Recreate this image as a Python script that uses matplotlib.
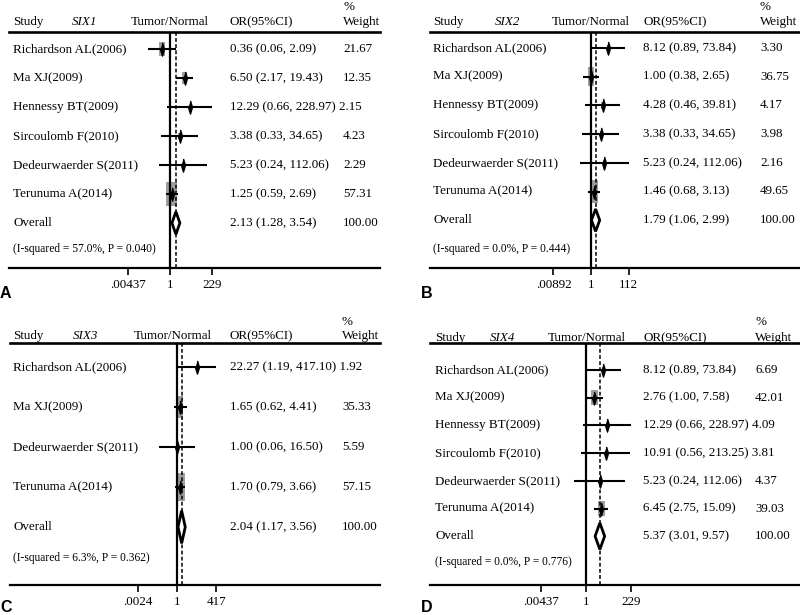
import matplotlib
matplotlib.use("Agg")
import numpy as np
import matplotlib.pyplot as plt
from matplotlib.patches import Polygon, Rectangle
from matplotlib.ticker import NullLocator
from matplotlib.transforms import blended_transform_factory

plt.rcParams['font.family'] = ['Liberation Serif', 'DejaVu Serif']

# ---------------- data ----------------
a_gene = 'SIX1'
a_studies = ['Richardson AL(2006)', 'Ma XJ(2009)', 'Hennessy BT(2009)',
             'Sircoulomb F(2010)', 'Dedeurwaerder S(2011)', 'Terunuma A(2014)']
a_or = [0.36, 6.50, 12.29, 3.38, 5.23, 1.25]
a_lo = [0.06, 2.17, 0.66, 0.33, 0.24, 0.59]
a_hi = [2.09, 19.43, 228.97, 34.65, 112.06, 2.69]
a_wt = [21.67, 12.35, 2.15, 4.23, 2.29, 57.31]
a_overall = [2.13, 1.28, 3.54]
a_het = '(I-squared = 57.0%, P = 0.040)'
a_ticks = [0.00437, 1, 229]
a_ticklabels = ['.00437', '1', '229']

b_gene = 'SIX2'
b_studies = ['Richardson AL(2006)', 'Ma XJ(2009)', 'Hennessy BT(2009)',
             'Sircoulomb F(2010)', 'Dedeurwaerder S(2011)', 'Terunuma A(2014)']
b_or = [8.12, 1.00, 4.28, 3.38, 5.23, 1.46]
b_lo = [0.89, 0.38, 0.46, 0.33, 0.24, 0.68]
b_hi = [73.84, 2.65, 39.81, 34.65, 112.06, 3.13]
b_wt = [3.30, 36.75, 4.17, 3.98, 2.16, 49.65]
b_overall = [1.79, 1.06, 2.99]
b_het = '(I-squared = 0.0%, P = 0.444)'
b_ticks = [0.00892, 1, 112]
b_ticklabels = ['.00892', '1', '112']

c_gene = 'SIX3'
c_studies = ['Richardson AL(2006)', 'Ma XJ(2009)', 'Dedeurwaerder S(2011)', 'Terunuma A(2014)']
c_or = [22.27, 1.65, 1.00, 1.70]
c_lo = [1.19, 0.62, 0.06, 0.79]
c_hi = [417.10, 4.41, 16.50, 3.66]
c_wt = [1.92, 35.33, 5.59, 57.15]
c_overall = [2.04, 1.17, 3.56]
c_het = '(I-squared = 6.3%, P = 0.362)'
c_ticks = [0.0024, 1, 417]
c_ticklabels = ['.0024', '1', '417']

d_gene = 'SIX4'
d_studies = ['Richardson AL(2006)', 'Ma XJ(2009)', 'Hennessy BT(2009)',
             'Sircoulomb F(2010)', 'Dedeurwaerder S(2011)', 'Terunuma A(2014)']
d_or = [8.12, 2.76, 12.29, 10.91, 5.23, 6.45]
d_lo = [0.89, 1.00, 0.66, 0.56, 0.24, 2.75]
d_hi = [73.84, 7.58, 228.97, 213.25, 112.06, 15.09]
d_wt = [6.69, 42.01, 4.09, 3.81, 4.37, 39.03]
d_overall = [5.37, 3.01, 9.57]
d_het = '(I-squared = 0.0%, P = 0.776)'
d_ticks = [0.00437, 1, 229]
d_ticklabels = ['.00437', '1', '229']

# ---------------- layout (pixels) ----------------
W, H = 800, 615
FS = 9.4
GRAY = '#9e9e9e'

layouts = {
    'A': dict(left=9, right=380, top=32, bottom=268, one=170, scale=18,
              first=49, step=29, isq=249, head=22, pct=7,
              study=13, gene=72, tn=170, orx=230, wtx=343,
              box=3.2, asp=0.44, dia=0.39, lx=0, ly=293),
    'B': dict(left=430, right=800, top=32, bottom=268, one=591, scale=18.3,
              first=48, step=28.7, isq=249, head=22, pct=7,
              study=433, gene=495, tn=591, orx=643, wtx=760,
              box=3.2, asp=0.36, dia=0.39, lx=421, ly=293),
    'C': dict(left=10, right=380, top=343, bottom=585, one=177, scale=15,
              first=367, step=40, isq=558, head=336, pct=322,
              study=13, gene=73, tn=173, orx=230, wtx=342,
              box=3.6, asp=0.3, dia=0.41, lx=0, ly=607),
    'D': dict(left=430, right=800, top=343, bottom=585, one=586, scale=19,
              first=370, step=27.7, isq=562, head=338, pct=322,
              study=435, gene=490, tn=587, orx=643, wtx=755,
              box=2.3, asp=0.45, dia=0.48, lx=421, ly=607),
}

fig = plt.figure(figsize=(8, 6.15), dpi=100)


def draw_panel(letter, gene, studies, ors, los, his, wts, overall, het, ticks, ticklabels):
    L = layouts[letter]
    left, right, top, bottom = L['left'], L['right'], L['top'], L['bottom']
    ax = fig.add_axes([left / W, 1 - bottom / H, (right - left) / W, (bottom - top) / H])
    ax.set_xscale('log')
    s = L['scale']
    ax.set_xlim(10 ** (-(L['one'] - left) / s), 10 ** ((right - L['one']) / s))
    first, step = L['first'], L['step']
    ax.set_ylim((bottom - first) / step, (top - first) / step)

    tr = blended_transform_factory(ax.transAxes, ax.transData)
    fx = lambda px: (px - left) / (right - left)
    fy = lambda py: (py - first) / step

    # header
    ax.text(fx(L['study']), fy(L['head']), 'Study', transform=tr, fontsize=FS, va='center', clip_on=False)
    ax.text(fx(L['gene']), fy(L['head']), gene, transform=tr, fontsize=FS, va='center',
            style='italic', clip_on=False)
    ax.text(fx(L['tn']), fy(L['head']), 'Tumor/Normal', transform=tr, fontsize=FS, va='center',
            ha='center', clip_on=False)
    ax.text(fx(L['orx']), fy(L['head']), 'OR(95%CI)', transform=tr, fontsize=FS, va='center', clip_on=False)
    ax.text(fx(L['wtx']), fy(L['head']), 'Weight', transform=tr, fontsize=FS, va='center', clip_on=False)
    ax.text(fx(L['wtx']), fy(L['pct']), '%', transform=tr, fontsize=FS, va='center', clip_on=False)

    pt_marker = [(0, 1), (0.3, 0), (0, -1), (-0.3, 0)]

    for i, (name, o, lo, hi, w) in enumerate(zip(studies, ors, los, his, wts)):
        # weight box: height in px grows with sqrt(weight), converted to data units
        bh = L['box'] * np.sqrt(w)
        bw = bh * L['asp']
        x0 = o * 10 ** (-bw / 2 / s)
        x1 = o * 10 ** (bw / 2 / s)
        ax.add_patch(Rectangle((x0, i - bh / 2 / step), x1 - x0, bh / step,
                               facecolor=GRAY, edgecolor='none', zorder=2))
        ax.plot([lo, hi], [i, i], color='black', lw=1.5, zorder=3, solid_capstyle='butt')
        ax.plot([o], [i], marker=pt_marker, ms=9.5, color='black', ls='none', zorder=4)
        ax.text(fx(L['study']), i, name, transform=tr, fontsize=FS, va='center')
        ors_txt = '%.2f (%.2f, %.2f)' % (o, lo, hi)
        if len(ors_txt) >= 20:
            ax.text(fx(L['orx']), i, ors_txt + ' %.2f' % w, transform=tr, fontsize=FS, va='center')
        else:
            ax.text(fx(L['orx']), i, ors_txt, transform=tr, fontsize=FS, va='center')
            ax.text(fx(L['wtx']), i, '%.2f' % w, transform=tr, fontsize=FS, va='center')

    n = len(studies)
    est, olo, ohi = overall
    ax.axvline(1, color='black', lw=1.6, zorder=3)
    ax.axvline(est, color='black', lw=1.1, ls=(0, (2.5, 1.5)), zorder=3)
    h = L['dia']
    ax.add_patch(Polygon([(olo, n), (est, n - h), (ohi, n), (est, n + h)], closed=True,
                         facecolor='white', edgecolor='black', lw=2, zorder=5))
    ax.text(fx(L['study']), n, 'Overall', transform=tr, fontsize=FS, va='center')
    ax.text(fx(L['orx']), n, '%.2f (%.2f, %.2f)' % (est, olo, ohi), transform=tr, fontsize=FS, va='center')
    ax.text(fx(L['wtx']), n, '100.00', transform=tr, fontsize=FS, va='center')
    ax.text(fx(L['study']), fy(L['isq']), het, transform=tr, fontsize=8.3, va='center')

    for side in ['left', 'right']:
        ax.spines[side].set_visible(False)
    ax.spines['top'].set_linewidth(1.9)
    ax.spines['bottom'].set_linewidth(1.6)
    ax.set_yticks([])
    ax.set_xticks(ticks, ticklabels)
    ax.xaxis.set_minor_locator(NullLocator())
    ax.tick_params(axis='x', direction='out', length=5, width=1.2, pad=3, labelsize=FS)
    ax.patch.set_alpha(0)

    fig.text(L['lx'] / W, 1 - L['ly'] / H, letter, family='Liberation Sans', weight='bold',
             fontsize=11.5, va='center', ha='left')


draw_panel('A', a_gene, a_studies, a_or, a_lo, a_hi, a_wt, a_overall, a_het, a_ticks, a_ticklabels)
draw_panel('B', b_gene, b_studies, b_or, b_lo, b_hi, b_wt, b_overall, b_het, b_ticks, b_ticklabels)
draw_panel('C', c_gene, c_studies, c_or, c_lo, c_hi, c_wt, c_overall, c_het, c_ticks, c_ticklabels)
draw_panel('D', d_gene, d_studies, d_or, d_lo, d_hi, d_wt, d_overall, d_het, d_ticks, d_ticklabels)

fig.savefig('out.png', dpi=100)
